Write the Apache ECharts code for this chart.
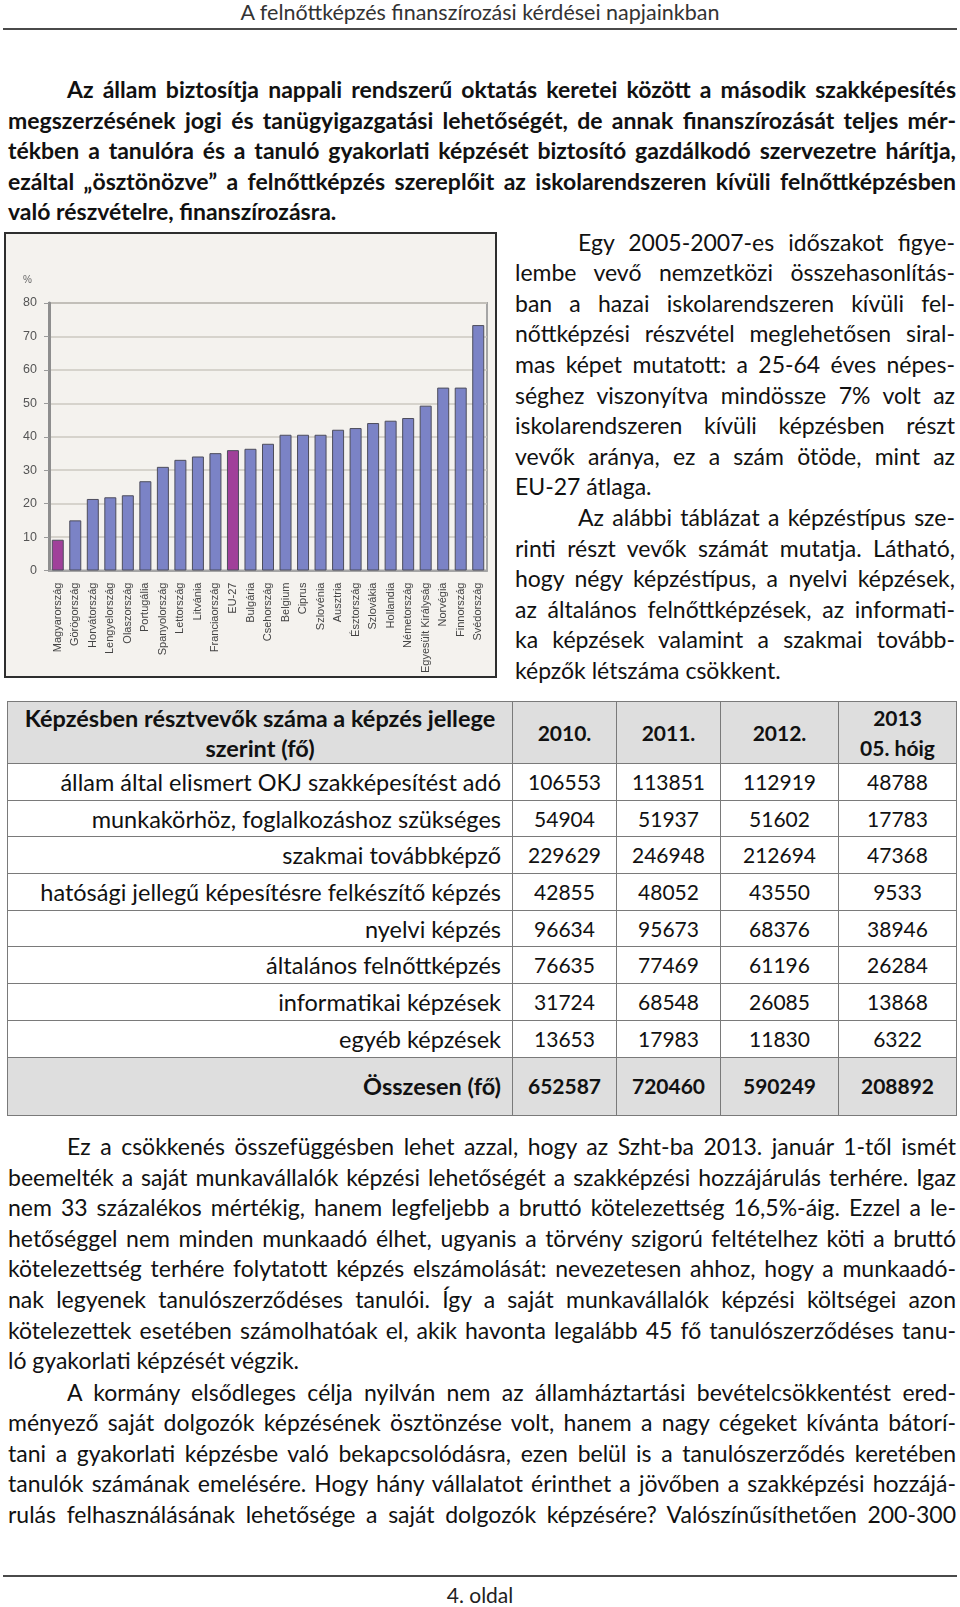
<!DOCTYPE html>
<html lang="hu">
<head>
<meta charset="UTF-8">
<title>A felnőttképzés finanszírozási kérdései napjainkban</title>
<script src="https://cdn.jsdelivr.net/npm/echarts/dist/echarts.min.js"></script>
<style>
  body { margin: 0; background: #fff; }
  #page { position: relative; width: 960px; height: 1607px; overflow: hidden; font-family: Lato, "Open Sans", sans-serif; color: #111; }
  .ln { position: absolute; white-space: nowrap; font-size: 23px; line-height: 30px; }
  .rule { position: absolute; left: 3px; width: 954px; height: 2px; background: #4a4a4a; }
  #chartBox { position: absolute; left: 4px; top: 232px; width: 493px; height: 446px; box-sizing: border-box; border: 2px solid #2e2e2e; background: #f4f2ee; }
  #chart { width: 489px; height: 442px; }
  #tbl { position: absolute; left: 7px; top: 701px; border-collapse: collapse; table-layout: fixed; font-size: 21px; }
  #tbl td { border: 1px solid #7a7a7a; padding: 0; text-align: center; vertical-align: middle; line-height: 30px; white-space: nowrap; }
  #tbl td.lab { text-align: right; padding-right: 11px; font-size: 23.5px; }
  #tbl tr.head td, #tbl tr.sum td { background: #dedede; font-weight: bold; }
  #tbl tr.head td.lab { text-align: center; padding-right: 0; }
</style>
</head>
<body>
<div id="page">
  <div class="rule" style="top:28px"></div>
  <div id="chartBox"><div id="chart"></div></div>
  <table id="tbl"></table>
  <div class="rule" style="top:1575px"></div>
</div>

<script type="text/javascript">
// ---- chart data ----
var countries = ['Magyarország', 'Görögország', 'Horvátország', 'Lengyelország', 'Olaszország', 'Portugália',
  'Spanyolország', 'Lettország', 'Litvánia', 'Franciaország', 'EU-27', 'Bulgária', 'Csehország', 'Belgium',
  'Ciprus', 'Szlovénia', 'Ausztria', 'Észtország', 'Szlovákia', 'Hollandia', 'Németország',
  'Egyesült Királyság', 'Norvégia', 'Finnország', 'Svédország'];
var shares = [9.2, 15, 21.4, 21.9, 22.5, 26.7, 31, 33.1, 34.1, 35.1, 36, 36.4, 37.9, 40.6, 40.6, 40.6,
  42.1, 42.6, 44.1, 44.8, 45.6, 49.3, 54.7, 54.7, 73.4];
var highlighted = ['Magyarország', 'EU-27'];

// ---- table data ----
var tableTitle = ['Képzésben résztvevők száma a képzés jellege', 'szerint (fő)'];
var tableYears = ['2010.', '2011.', '2012.', '2013<br>05. hóig'];
var trainingTypes = ['állam által elismert OKJ szakképesítést adó', 'munkakörhöz, foglalkozáshoz szükséges',
  'szakmai továbbképző', 'hatósági jellegű képesítésre felkészítő képzés', 'nyelvi képzés',
  'általános felnőttképzés', 'informatikai képzések', 'egyéb képzések'];
var count2010 = [106553, 54904, 229629, 42855, 96634, 76635, 31724, 13653];
var count2011 = [113851, 51937, 246948, 48052, 95673, 77469, 68548, 17983];
var count2012 = [112919, 51602, 212694, 43550, 68376, 61196, 26085, 11830];
var count2013 = [48788, 17783, 47368, 9533, 38946, 26284, 13868, 6322];
var totalLabel = 'Összesen (fő)';
var totals = [652587, 720460, 590249, 208892];

// ---- page text ----
var headTitle = 'A felnőttképzés finanszírozási kérdései napjainkban';
var introLines = [
  'Az állam biztosítja nappali rendszerű oktatás keretei között a második szakképesítés',
  'megszerzésének jogi és tanügyigazgatási lehetőségét, de annak finanszírozását teljes mér-',
  'tékben a tanulóra és a tanuló gyakorlati képzését biztosító gazdálkodó szervezetre hárítja,',
  'ezáltal „ösztönözve” a felnőttképzés szereplőit az iskolarendszeren kívüli felnőttképzésben',
  'való részvételre, finanszírozásra.'
];
var sideLines1 = [
  'Egy 2005-2007-es időszakot figye-',
  'lembe vevő nemzetközi összehasonlítás-',
  'ban a hazai iskolarendszeren kívüli fel-',
  'nőttképzési részvétel meglehetősen siral-',
  'mas képet mutatott: a 25-64 éves népes-',
  'séghez viszonyítva mindössze 7% volt az',
  'iskolarendszeren kívüli képzésben részt',
  'vevők aránya, ez a szám ötöde, mint az',
  'EU-27 átlaga.'
];
var sideLines2 = [
  'Az alábbi táblázat a képzéstípus sze-',
  'rinti részt vevők számát mutatja. Látható,',
  'hogy négy képzéstípus, a nyelvi képzések,',
  'az általános felnőttképzések, az informati-',
  'ka képzések valamint a szakmai tovább-',
  'képzők létszáma csökkent.'
];
var bottomLines1 = [
  'Ez a csökkenés összefüggésben lehet azzal, hogy az Szht-ba 2013. január 1-től ismét',
  'beemelték a saját munkavállalók képzési lehetőségét a szakképzési hozzájárulás terhére. Igaz',
  'nem 33 százalékos mértékig, hanem legfeljebb a bruttó kötelezettség 16,5%-áig. Ezzel a le-',
  'hetőséggel nem minden munkaadó élhet, ugyanis a törvény szigorú feltételhez köti a bruttó',
  'kötelezettség terhére folytatott képzés elszámolását: nevezetesen ahhoz, hogy a munkaadó-',
  'nak legyenek tanulószerződéses tanulói. Így a saját munkavállalók képzési költségei azon',
  'kötelezettek esetében számolhatóak el, akik havonta legalább 45 fő tanulószerződéses tanu-',
  'ló gyakorlati képzését végzik.'
];
var bottomLines2 = [
  'A kormány elsődleges célja nyilván nem az államháztartási bevételcsökkentést ered-',
  'ményező saját dolgozók képzésének ösztönzése volt, hanem a nagy cégeket kívánta bátorí-',
  'tani a gyakorlati képzésbe való bekapcsolódásra, ezen belül is a tanulószerződés keretében',
  'tanulók számának emelésére. Hogy hány vállalatot érinthet a jövőben a szakképzési hozzájá-',
  'rulás felhasználásának lehetősége a saját dolgozók képzésére? Valószínűsíthetően 200-300'
];
var footerText = '4. oldal';

var page = document.getElementById('page');

// one line of text, stretched (justify) or squeezed to fit its width
function putLine(text, x, y, w, opt) {
  opt = opt || {};
  var d = document.createElement('div');
  d.className = 'ln';
  d.textContent = text;
  d.style.left = x + 'px';
  d.style.top = (y - 15) + 'px';
  if (opt.bold) d.style.fontWeight = 'bold';
  if (opt.size) d.style.fontSize = opt.size + 'px';
  if (opt.color) d.style.color = opt.color;
  page.appendChild(d);
  var nat = d.getBoundingClientRect().width;
  if (opt.center) {
    d.style.left = (x - nat / 2) + 'px';
    return;
  }
  var spaces = (text.match(/ /g) || []).length;
  if (opt.justify && nat < w && spaces) {
    d.style.wordSpacing = ((w - nat) / spaces) + 'px';
  } else if (nat > w) {
    d.style.transformOrigin = '0 0';
    d.style.transform = 'scaleX(' + (w / nat) + ')';
  }
}

function putParagraph(lines, x, indentX, right, y0, step, opt) {
  lines.forEach(function (t, i) {
    var lx = i === 0 ? indentX : x;
    var last = i === lines.length - 1;
    putLine(t, lx, y0 + i * step, right - lx, {
      bold: opt.bold,
      justify: opt.justifyLast ? true : !last
    });
  });
}

putLine(headTitle, 480, 12, 0, { center: true, size: 21.5, color: '#333' });
putParagraph(introLines, 8, 67, 956, 89, 30.5, { bold: true });
putParagraph(sideLines1, 515, 578, 955, 241.5, 30.6, {});
putParagraph(sideLines2, 515, 578, 955, 517, 30.6, {});
putParagraph(bottomLines1, 8, 67, 956, 1146, 30.6, {});
putParagraph(bottomLines2, 8, 67, 956, 1391.5, 30.6, { justifyLast: true });
putLine(footerText, 480, 1595, 0, { center: true, size: 21, color: '#222' });

// ---- table ----
var tbl = document.getElementById('tbl');
var colW = [505, 104, 104, 118, 118];
var html = '<colgroup>' + colW.map(function (w) { return '<col style="width:' + w + 'px">'; }).join('') + '</colgroup>';
html += '<tr class="head" style="height:62px"><td class="lab">' + tableTitle.join('<br>') + '</td>' +
  tableYears.map(function (y) { return '<td>' + y + '</td>'; }).join('') + '</tr>';
trainingTypes.forEach(function (name, i) {
  html += '<tr style="height:36.7px"><td class="lab">' + name + '</td><td>' + count2010[i] + '</td><td>' +
    count2011[i] + '</td><td>' + count2012[i] + '</td><td>' + count2013[i] + '</td></tr>';
});
html += '<tr class="sum" style="height:58.5px"><td class="lab">' + totalLabel + '</td>' +
  totals.map(function (v) { return '<td>' + v + '</td>'; }).join('') + '</tr>';
tbl.innerHTML = html;
tbl.style.width = colW.reduce(function (a, b) { return a + b; }, 0) + 'px';

// ---- chart ----
var myChart = echarts.init(document.getElementById('chart'));
var option = {
  backgroundColor: 'transparent',
  animation: false,
  title: {
    text: '%',
    left: 12,
    top: 36,
    textStyle: { fontSize: 10, color: '#666', fontWeight: 'normal', fontFamily: 'Liberation Sans' }
  },
  grid: {
    left: 43,
    right: 8,
    top: 69,
    bottom: 105,
    show: true,
    borderColor: '#a5a5a5',
    borderWidth: 2
  },
  xAxis: {
    type: 'category',
    data: countries,
    axisLine: { lineStyle: { color: '#a5a5a5', width: 2 } },
    axisTick: { show: false },
    axisLabel: {
      interval: 0,
      rotate: 90,
      margin: 12,
      fontSize: 11,
      color: '#444',
      fontFamily: 'Liberation Sans'
    }
  },
  yAxis: {
    type: 'value',
    min: 0,
    max: 80,
    interval: 10,
    axisLine: { show: true, lineStyle: { color: '#8e8e8e', width: 3 } },
    axisTick: { show: true, length: 5, lineStyle: { color: '#9a9a9a' } },
    axisLabel: { margin: 12, fontSize: 12.5, color: '#555', fontFamily: 'Liberation Sans' },
    splitLine: { lineStyle: { color: '#cdc8c0', width: 1.5 } }
  },
  series: [{
    type: 'bar',
    barWidth: 12,
    itemStyle: { color: '#7b83c6', borderColor: '#4d4d5c', borderWidth: 1 },
    data: shares.map(function (v, i) {
      if (highlighted.indexOf(countries[i]) >= 0) {
        return { value: v, itemStyle: { color: '#a0409a' } };
      }
      return v;
    })
  }]
};
myChart.setOption(option);
window.onresize = myChart.resize;
</script>
</body>
</html>
